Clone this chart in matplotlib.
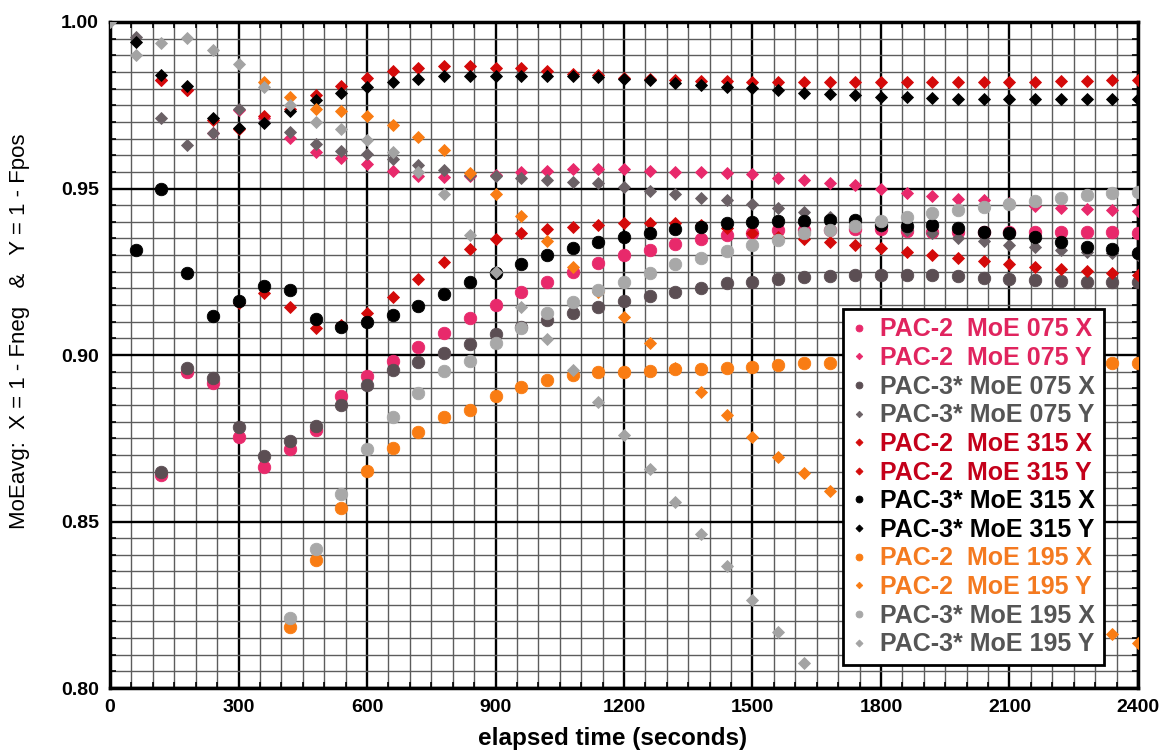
import numpy as np
import matplotlib
matplotlib.use("Agg")
import matplotlib.pyplot as plt
from matplotlib.ticker import MultipleLocator, FormatStrFormatter

plt.rcParams['font.family'] = ['Liberation Sans', 'DejaVu Sans']

nan = np.nan
t = np.arange(0, 2401, 60)

pac2_075_x = [nan, nan, 0.8640, 0.8950, 0.8915, 0.8753, 0.8665, 0.8718, 0.8775, 0.8878,
              0.8937, 0.8982, 0.9023, 0.9065, 0.9110, 0.9150, 0.9188, 0.9220, 0.9250, 0.9277,
              0.9300, 0.9315, 0.9333, 0.9348, 0.9360, 0.9365, 0.9375, 0.9375, 0.9375, 0.9377,
              0.9377, 0.9372, 0.9370, 0.9370, 0.9370, 0.9370, 0.9370, 0.9368, 0.9368, 0.9368, 0.9365]
pac2_075_y = [nan, nan, 0.9826, 0.9795, 0.9666, 0.9735, 0.9712, 0.9651, 0.9611, 0.9593,
              0.9573, 0.9553, 0.9538, 0.9535, 0.9538, 0.9542, 0.9550, 0.9553, 0.9559, 0.9559,
              0.9559, 0.9553, 0.9550, 0.9549, 0.9547, 0.9543, 0.9532, 0.9526, 0.9517, 0.9511,
              0.9498, 0.9488, 0.9477, 0.9468, 0.9465, 0.9455, 0.9447, 0.9440, 0.9438, 0.9435, 0.9432]
pac3_075_x = [nan, nan, 0.8648, 0.8960, 0.8932, 0.8783, 0.8697, 0.8743, 0.8788, 0.8850,
              0.8910, 0.8955, 0.8980, 0.9007, 0.9033, 0.9063, 0.9085, 0.9105, 0.9127, 0.9145,
              0.9163, 0.9178, 0.9190, 0.9202, 0.9215, 0.9220, 0.9228, 0.9233, 0.9237, 0.9240,
              0.9240, 0.9240, 0.9240, 0.9238, 0.9232, 0.9228, 0.9225, 0.9222, 0.9220, 0.9220, 0.9220]
pac3_075_y = [nan, 0.9956, 0.9713, 0.9631, 0.9668, 0.9739, 0.9700, 0.9671, 0.9633, 0.9614,
              0.9604, 0.9589, 0.9571, 0.9556, 0.9541, 0.9538, 0.9531, 0.9526, 0.9520, 0.9516,
              0.9504, 0.9493, 0.9485, 0.9472, 0.9465, 0.9453, 0.9440, 0.9430, 0.9415, 0.9400,
              0.9388, 0.9375, 0.9365, 0.9350, 0.9342, 0.9330, 0.9325, 0.9315, 0.9310, 0.9305, 0.9300]
pac2_315_x = [nan, nan, nan, nan, nan, 0.9155, 0.9185, 0.9145, 0.9080, 0.9090,
              0.9125, 0.9175, 0.9228, 0.9278, 0.9317, 0.9347, 0.9365, 0.9377, 0.9385, 0.9390,
              0.9395, 0.9397, 0.9397, 0.9390, 0.9380, 0.9367, 0.9355, 0.9347, 0.9338, 0.9330,
              0.9320, 0.9310, 0.9300, 0.9290, 0.9282, 0.9272, 0.9263, 0.9257, 0.9253, 0.9247, 0.9240]
pac2_315_y = [nan, nan, 0.9826, 0.9795, 0.9705, 0.9680, 0.9719, 0.9738, 0.9781, 0.9808,
              0.9831, 0.9853, 0.9863, 0.9869, 0.9869, 0.9863, 0.9861, 0.9853, 0.9845, 0.9840,
              0.9832, 0.9830, 0.9825, 0.9823, 0.9823, 0.9819, 0.9819, 0.9819, 0.9819, 0.9819,
              0.9819, 0.9820, 0.9820, 0.9820, 0.9820, 0.9820, 0.9821, 0.9822, 0.9822, 0.9825, 0.9825]
pac3_315_x = [nan, 0.9315, 0.9500, 0.9245, 0.9117, 0.9162, 0.9207, 0.9195, 0.9107, 0.9085,
              0.9098, 0.9120, 0.9148, 0.9182, 0.9218, 0.9247, 0.9273, 0.9300, 0.9320, 0.9340,
              0.9355, 0.9367, 0.9377, 0.9385, 0.9395, 0.9400, 0.9402, 0.9402, 0.9405, 0.9405,
              0.9390, 0.9387, 0.9390, 0.9380, 0.9370, 0.9365, 0.9355, 0.9338, 0.9325, 0.9317, 0.9307]
pac3_315_y = [nan, 0.9939, 0.9841, 0.9809, 0.9711, 0.9683, 0.9698, 0.9733, 0.9766, 0.9786,
              0.9804, 0.9819, 0.9829, 0.9838, 0.9838, 0.9839, 0.9838, 0.9838, 0.9838, 0.9834,
              0.9828, 0.9826, 0.9816, 0.9811, 0.9804, 0.9801, 0.9796, 0.9787, 0.9784, 0.9781,
              0.9776, 0.9776, 0.9771, 0.9770, 0.9768, 0.9768, 0.9768, 0.9768, 0.9768, 0.9768, 0.9768]
pac2_195_x = [nan, nan, nan, nan, nan, nan, nan, 0.8182, 0.8384, 0.8540,
              0.8652, 0.8720, 0.8768, 0.8813, 0.8835, 0.8878, 0.8905, 0.8925, 0.8940, 0.8948,
              0.8950, 0.8953, 0.8957, 0.8957, 0.8960, 0.8965, 0.8970, 0.8975, 0.8975, nan,
              nan, nan, nan, nan, nan, nan, nan, nan, nan, 0.8975, 0.8975]
pac2_195_y = [nan, nan, nan, nan, nan, nan, 0.9819, 0.9776, 0.9739, 0.9734,
              0.9719, 0.9691, 0.9656, 0.9616, 0.9547, 0.9483, 0.9418, 0.9342, 0.9265, 0.9190,
              0.9113, 0.9035, 0.8960, 0.8890, 0.8820, 0.8755, 0.8695, 0.8645, 0.8593, nan,
              nan, nan, nan, nan, nan, nan, nan, nan, nan, 0.8161, 0.8134]
pac3_195_x = [nan, nan, nan, nan, nan, nan, nan, 0.8211, 0.8417, 0.8583,
              0.8717, 0.8815, 0.8885, 0.8953, 0.8983, 0.9035, 0.9082, 0.9125, 0.9160, 0.9195,
              0.9220, 0.9247, 0.9272, 0.9292, 0.9312, 0.9330, 0.9345, 0.9365, 0.9375, 0.9387,
              0.9403, 0.9415, 0.9425, 0.9435, 0.9445, 0.9453, 0.9462, 0.9473, 0.9480, 0.9486, 0.9490]
pac3_195_y = [1.0000, 0.9901, 0.9936, 0.9951, 0.9916, 0.9873, 0.9804, 0.9751, 0.9701, 0.9679,
              0.9646, 0.9609, 0.9550, 0.9483, 0.9360, 0.9250, 0.9145, 0.9047, 0.8955, 0.8860,
              0.8760, 0.8658, 0.8560, 0.8462, 0.8366, 0.8264, 0.8167, 0.8074, nan, nan,
              nan, nan, nan, nan, nan, nan, nan, nan, nan, nan, nan]

labels = ["PAC-2  MoE 075 X", "PAC-2  MoE 075 Y", "PAC-3* MoE 075 X", "PAC-3* MoE 075 Y",
          "PAC-2  MoE 315 X", "PAC-2  MoE 315 Y", "PAC-3* MoE 315 X", "PAC-3* MoE 315 Y",
          "PAC-2  MoE 195 X", "PAC-2  MoE 195 Y", "PAC-3* MoE 195 X", "PAC-3* MoE 195 Y"]
series = [pac2_075_x, pac2_075_y, pac3_075_x, pac3_075_y,
          pac2_315_x, pac2_315_y, pac3_315_x, pac3_315_y,
          pac2_195_x, pac2_195_y, pac3_195_x, pac3_195_y]
markers = ['o', 'D', 'o', 'D', 'D', 'D', 'o', 'D', 'o', 'D', 'o', 'D']
msizes = [9, 6, 9, 6, 6.5, 6.5, 9, 6.5, 9, 6, 9, 6.5]
colors = ['#E8296B', '#E8296B', '#5B4E53', '#6B6166', '#D40A0A', '#D40A0A',
          '#000000', '#000000', '#F97C13', '#F97C13', '#A8A8A8', '#A3A3A3']
text_colors = ['#E0245E', '#E0245E', '#555555', '#555555', '#C4001A', '#C4001A',
               '#000000', '#000000', '#F47A20', '#F47A20', '#555555', '#555555']

fig = plt.figure(figsize=(11.67, 7.56), dpi=100)
ax = fig.add_axes([0.0943, 0.0899, 0.8808, 0.8810])

for y, lab, m, ms, c in zip(series, labels, markers, msizes, colors):
    ax.plot(t, y, linestyle='none', marker=m, markersize=ms, color=c,
            markeredgecolor=c, markeredgewidth=0.6, label=lab, zorder=3)

ax.set_xlim(0, 2400)
ax.set_ylim(0.80, 1.00)
ax.xaxis.set_major_locator(MultipleLocator(300))
ax.xaxis.set_minor_locator(MultipleLocator(50))
ax.yaxis.set_major_locator(MultipleLocator(0.05))
ax.yaxis.set_minor_locator(MultipleLocator(0.005))
ax.yaxis.set_major_formatter(FormatStrFormatter('%.2f'))
ax.set_axisbelow(True)
ax.grid(which='minor', color='#5c5c5c', linewidth=1.0)
ax.grid(which='major', color='#000000', linewidth=1.7)
ax.tick_params(which='both', direction='in', top=True, right=True)
ax.tick_params(which='major', length=0, labelsize=14, pad=8)
ax.tick_params(which='minor', length=4, width=1.2)
for lbl in ax.get_xticklabels() + ax.get_yticklabels():
    lbl.set_fontweight('bold')
for sp in ax.spines.values():
    sp.set_linewidth(2.5)

ax.set_xlabel('elapsed time (seconds)', fontsize=17.5, fontweight='bold')
ax.xaxis.set_label_coords(0.489, -0.058)
ax.set_ylabel('MoEavg:  X = 1 - Fneg   &   Y = 1 - Fpos', fontsize=16)
ax.yaxis.set_label_coords(-0.078, 0.535)

leg = ax.legend(loc='lower left', bbox_to_anchor=(0.713, 0.0345),
                prop={'weight': 'bold', 'size': 18}, frameon=True, fancybox=False,
                framealpha=1, edgecolor='black', markerscale=0.55, handlelength=0.6,
                handletextpad=0.55, labelspacing=0.185, borderpad=0.35, borderaxespad=0)
leg.get_frame().set_linewidth(2.0)
for txt, tc in zip(leg.get_texts(), text_colors):
    txt.set_color(tc)
leg.set_zorder(5)

fig.savefig('out.png', dpi=100)
